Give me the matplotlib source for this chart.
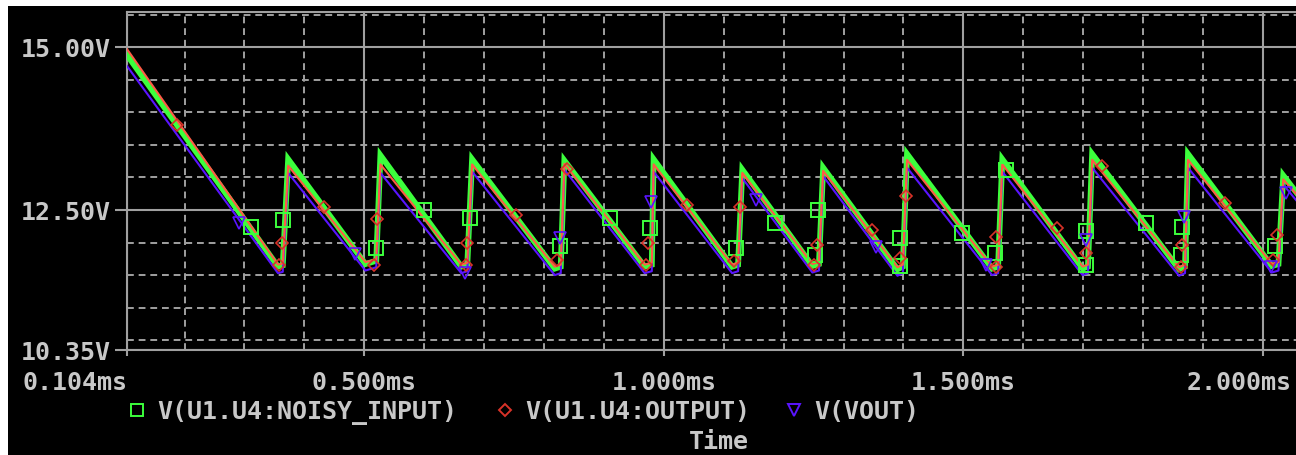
import matplotlib
matplotlib.use("Agg")
import matplotlib.pyplot as plt
import matplotlib.transforms as mtransforms
from matplotlib.lines import Line2D
from matplotlib.patches import Rectangle
from matplotlib.ticker import MultipleLocator

# probe traces, time in ms and volts
time_ms = [0.104, 0.356, 0.364, 0.373,
           0.502, 0.520, 0.527,
           0.662, 0.672, 0.680,
           0.818, 0.828, 0.834,
           0.968, 0.980, 0.983,
           1.114, 1.124, 1.131,
           1.248, 1.259, 1.266,
           1.390, 1.399, 1.406,
           1.548, 1.558, 1.565,
           1.699, 1.708, 1.715,
           1.860, 1.870, 1.875,
           2.015, 2.026, 2.034, 2.060]

noisy_input_v = [14.88, 11.63, 11.65, 13.28,
                 11.67, 11.72, 13.34,
                 11.63, 11.66, 13.28,
                 11.60, 11.63, 13.26,
                 11.63, 11.66, 13.28,
                 11.63, 11.66, 13.12,
                 11.64, 11.67, 13.15,
                 11.59, 11.63, 13.36,
                 11.60, 11.63, 13.28,
                 11.60, 11.63, 13.36,
                 11.59, 11.63, 13.36,
                 11.64, 11.67, 13.03, 12.72]

output_v = [14.97, 11.66, 11.68, 13.18,
            11.70, 11.74, 13.20,
            11.66, 11.69, 13.20,
            11.63, 11.66, 13.21,
            11.66, 11.69, 13.20,
            11.66, 11.69, 13.07,
            11.67, 11.70, 13.10,
            11.62, 11.66, 13.27,
            11.63, 11.66, 13.20,
            11.63, 11.66, 13.27,
            11.62, 11.66, 13.27,
            11.67, 11.70, 12.97, 12.70]

vout_v = [14.71, 11.53, 11.55, 13.07,
          11.57, 11.62, 13.07,
          11.53, 11.56, 13.09,
          11.50, 11.53, 13.12,
          11.53, 11.56, 13.09,
          11.53, 11.56, 12.99,
          11.54, 11.57, 13.02,
          11.49, 11.53, 13.15,
          11.50, 11.53, 13.09,
          11.50, 11.53, 13.15,
          11.49, 11.53, 13.15,
          11.54, 11.57, 12.89, 12.60]

# symbol positions placed on each trace
noisy_mark_t = [0.311, 0.365, 0.520, 0.600, 0.677, 0.826, 0.911, 0.977,
                1.121, 1.186, 1.258, 1.253, 1.395, 1.395, 1.498, 1.572,
                1.553, 1.705, 1.704, 1.805, 1.865, 1.864, 2.021]
noisy_mark_v = [12.24, 12.35, 11.91, 12.50, 12.38, 11.94, 12.38, 12.22,
                11.91, 12.30, 12.50, 11.81, 12.07, 11.64, 12.15, 13.12,
                11.84, 12.18, 11.65, 12.30, 12.24, 11.81, 11.94]

output_mark_t = [0.188, 0.362, 0.358, 0.432, 0.522, 0.517, 0.672, 0.670,
                 0.754, 0.839, 0.821, 0.974, 0.971, 1.038, 1.128, 1.118,
                 1.255, 1.251, 1.348, 1.405, 1.395, 1.555, 1.555, 1.657,
                 1.732, 1.705, 1.865, 1.864, 1.937, 2.024, 2.017]
output_mark_v = [13.81, 11.99, 11.65, 12.55, 12.36, 11.65, 11.99, 11.65,
                 12.42, 13.13, 11.73, 11.99, 11.65, 12.58, 12.55, 11.71,
                 11.96, 11.65, 12.19, 12.72, 11.76, 12.08, 11.62, 12.22,
                 13.18, 11.84, 11.96, 11.62, 12.61, 12.11, 11.73]

vout_mark_t = [0.291, 0.485, 0.669, 0.827, 0.979, 1.154, 1.355, 1.537,
               1.705, 1.869, 2.039, 2.014]
vout_mark_v = [12.30, 11.82, 11.53, 12.07, 12.62, 12.65, 11.93, 11.65,
               12.04, 12.39, 12.76, 11.62]

y_ticks = [10.35, 12.50, 15.00]
y_tick_labels = ["10.35V", "12.50V", "15.00V"]
x_ticks = [0.104, 0.5, 1.0, 1.5, 2.0]
x_tick_labels = ["0.104ms", "0.500ms", "1.000ms", "1.500ms", "2.000ms"]

W, H = 1296, 456
green = "#3cff3c"
red_line = "#ff5a46"
red_mark = "#d83228"
blue = "#5a14ff"
grid_c = "#a0a0a0"
text_c = "#c8c8c8"
font = dict(family="DejaVu Sans Mono", weight="bold", size=18, color=text_c)

fig = plt.figure(figsize=(W / 100, H / 100), dpi=100, facecolor="black")
# white strips left over from the screen grab
fig.add_artist(Rectangle((0, 1 - 7 / H), 1, 7 / H, transform=fig.transFigure,
                         color="white", lw=0))
fig.add_artist(Rectangle((0, 0), 8 / W, 1, transform=fig.transFigure,
                         color="white", lw=0))

ax = fig.add_axes([127 / W, 105 / H, 1 - 127 / W, (351 - 13) / H])
ax.set_facecolor("black")
ax.set_xlim(0.104, 0.104 + 1169 / 599.1)
ax.set_ylim(10.35, 15.54)

for side in ["left", "top", "bottom"]:
    ax.spines[side].set_color(grid_c)
    ax.spines[side].set_linewidth(1.5)
ax.spines["right"].set_visible(False)

ax.set_xticks(x_ticks)
ax.set_yticks(y_ticks)
ax.xaxis.set_minor_locator(MultipleLocator(0.1))
ax.yaxis.set_minor_locator(MultipleLocator(0.5))
ax.tick_params(which="major", axis="y", length=8.6, width=1.5, color=grid_c,
               labelleft=False)
ax.tick_params(which="major", axis="x", length=4.5, width=1.5, color=grid_c,
               labelbottom=False)
ax.tick_params(which="minor", length=0)
ax.grid(which="major", color=grid_c, lw=1.5, ls="-")
ax.grid(which="minor", color=grid_c, lw=1.4, ls=(0, (3.5, 2.5)))
ax.set_axisbelow(True)

# traces
ax.plot(time_ms, noisy_input_v, color=green, lw=4.2, solid_joinstyle="miter",
        zorder=3)
ax.plot(time_ms, vout_v, color=blue, lw=1.5, zorder=4)
ax.plot(time_ms, output_v, color=red_line, lw=1.5, zorder=5)

ax.plot(noisy_mark_t, noisy_mark_v, ls="none", marker="s", ms=9.4,
        mfc="none", mec=green, mew=1.4, zorder=6)
ax.plot(output_mark_t, output_mark_v, ls="none", marker="D", ms=6.2,
        mfc="none", mec=red_mark, mew=1.2, zorder=7)
ax.plot(vout_mark_t, vout_mark_v, ls="none", marker="v", ms=8.6,
        mfc="none", mec=blue, mew=1.2, zorder=8)

# tick labels
ytrans = mtransforms.offset_copy(
    mtransforms.blended_transform_factory(fig.transFigure, ax.transData),
    fig=fig, y=-9, units="dots")
for v, lab in zip(y_ticks, y_tick_labels):
    fig.text(111 / W, v, lab, transform=ytrans, ha="right", va="baseline",
             **font)

xtrans = mtransforms.blended_transform_factory(ax.transData, fig.transFigure)
for i, (t, lab) in enumerate(zip(x_ticks, x_tick_labels)):
    if i == 0:
        fig.text(t, 1 - 390 / H, lab, transform=xtrans, ha="right",
                 va="baseline", **font)
    elif i == len(x_ticks) - 1:
        # last label is pushed left so it stays inside the window
        fig.text(1292 / W, 1 - 390 / H, lab, ha="right", va="baseline",
                 **font)
    else:
        fig.text(t, 1 - 390 / H, lab, transform=xtrans, ha="center",
                 va="baseline", **font)

# legend row
def legend_entry(x, marker, ms, color, label):
    fig.add_artist(Line2D([x / W], [1 - 411 / H], transform=fig.transFigure,
                          marker=marker, ms=ms, mfc="none", mec=color,
                          mew=1.4, ls="none"))
    fig.text((x + 20) / W, 1 - 419 / H, label, ha="left", va="baseline",
             **font)

legend_entry(137, "s", 8.0, green, "V(U1.U4:NOISY_INPUT)")
legend_entry(505, "D", 6.0, red_mark, "V(U1.U4:OUTPUT)")
legend_entry(794, "v", 8.0, blue, "V(VOUT)")

fig.text(719 / W, 1 - 449 / H, "Time", ha="center", va="baseline", **font)

fig.savefig("out.png", dpi=100, facecolor=fig.get_facecolor())
